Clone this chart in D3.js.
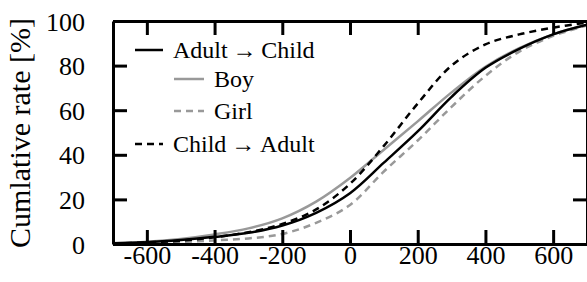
<!DOCTYPE html>
<html>
<head>
<meta charset="utf-8">
<script src="https://cdn.jsdelivr.net/npm/d3@7"></script>
<style>
  body { margin: 0; background: #fff; }
  text { font-family: "Liberation Serif", "Times New Roman", "DejaVu Serif", serif; fill: #000; }
</style>
</head>
<body>
<div class="chart"></div>
<script>
// chart values
var xValues = [-700, -600, -500, -400, -300, -200, -100, 0, 100, 200, 300, 400, 500, 600, 700];
var adultToChild = [0.3, 0.8, 1.8, 3.2, 5.0, 8.3, 14.0, 22.8, 36.5, 50.5, 66.0, 79.0, 87.5, 94.0, 98.3];
var boy = [0.3, 1.0, 2.3, 4.3, 7.0, 11.5, 19.0, 29.6, 42.3, 55.0, 68.0, 79.5, 87.8, 94.0, 98.3];
var girl = [0.1, 0.4, 0.9, 1.6, 2.5, 4.5, 9.5, 17.5, 32.5, 46.4, 61.5, 75.4, 86.3, 93.3, 98.0];
var childToAdult = [0.2, 0.7, 1.5, 3.0, 5.3, 9.0, 15.5, 27.0, 44.0, 63.0, 80.0, 89.5, 94.0, 97.0, 99.3];

var xTicks = [-600, -400, -200, 0, 200, 400, 600];
var yTicks = [0, 20, 40, 60, 80, 100];

var svgWidth = 587;
var svgHeight = 282;

var margin = { top: 21, right: 0, bottom: 38, left: 113 };
var width = svgWidth - margin.left - margin.right;
var height = svgHeight - margin.top - margin.bottom;

var svg = d3.select(".chart")
    .append("svg")
    .attr("width", svgWidth)
    .attr("height", svgHeight);

var chartGroup = svg.append("g")
    .attr("transform", `translate(${margin.left}, ${margin.top})`);

var xScale = d3.scaleLinear().domain([-700, 700]).range([0, width]);
var yScale = d3.scaleLinear().domain([0, 100]).range([height, 0]);

// clip the curves to the plot box
svg.append("defs").append("clipPath")
    .attr("id", "plotClip")
  .append("rect")
    .attr("width", width)
    .attr("height", height);

var series = [
    { name: "Girl", values: girl, color: "#999", dash: "7,5" },
    { name: "Boy", values: boy, color: "#999", dash: null },
    { name: "Child→Adult", values: childToAdult, color: "#000", dash: "7,5" },
    { name: "Adult→Child", values: adultToChild, color: "#000", dash: null }
];

var line = d3.line()
    .x(d => xScale(d[0]))
    .y(d => yScale(d[1]))
    .curve(d3.curveCatmullRom.alpha(0.5));

var curves = chartGroup.append("g").attr("clip-path", "url(#plotClip)");

series.forEach(function(s) {
    curves.append("path")
        .datum(xValues.map((x, i) => [x, s.values[i]]))
        .attr("d", line)
        .attr("fill", "none")
        .attr("stroke", s.color)
        .attr("stroke-width", 2.5)
        .attr("stroke-dasharray", s.dash);
});

// axes, ticks pointing inward
var bottomAxis = d3.axisBottom(xScale).tickValues(xTicks).tickSize(-14).tickSizeOuter(0)
    .tickPadding(20).tickFormat(d => String(d));
var leftAxis = d3.axisLeft(yScale).tickValues(yTicks).tickSize(-14).tickSizeOuter(0).tickPadding(28);
var topAxis = d3.axisTop(xScale).tickValues(xTicks).tickSize(-14).tickSizeOuter(0).tickFormat("");
var rightAxis = d3.axisRight(yScale).tickValues(yTicks).tickSize(-14).tickSizeOuter(0).tickFormat("");

var xAxis = chartGroup.append("g")
    .attr("transform", `translate(0, ${height})`)
    .call(bottomAxis);

var yAxis = chartGroup.append("g")
    .call(leftAxis);

chartGroup.append("g").call(topAxis);
chartGroup.append("g").attr("transform", `translate(${width}, 0)`).call(rightAxis);

chartGroup.selectAll(".domain, .tick line")
    .attr("stroke", "#000")
    .attr("stroke-width", 3);

xAxis.selectAll("text")
    .attr("font-size", 26)
    .attr("dy", 0);

yAxis.selectAll("text")
    .attr("font-size", 26)
    .attr("dy", "0.35em");

// y axis title
svg.append("text")
    .attr("transform", "translate(30, 133) rotate(-90)")
    .attr("text-anchor", "middle")
    .attr("font-size", 30)
    .text("Cumlative rate [%]");

// legend
var legendItems = [
    { label: "Adult\u2009→\u2009Child", color: "#000", dash: null, x1: 135, x2: 163, y: 50 },
    { label: "Boy", color: "#999", dash: null, x1: 174, x2: 204, y: 79 },
    { label: "Girl", color: "#999", dash: "7,5", x1: 174, x2: 204, y: 111 },
    { label: "Child\u2009→\u2009Adult", color: "#000", dash: "7,5", x1: 135, x2: 163, y: 144 }
];

var legend = svg.append("g");

legendItems.forEach(function(d) {
    legend.append("line")
        .attr("x1", d.x1)
        .attr("x2", d.x2)
        .attr("y1", d.y)
        .attr("y2", d.y)
        .attr("stroke", d.color)
        .attr("stroke-width", 2.5)
        .attr("stroke-dasharray", d.dash);
    legend.append("text")
        .attr("x", d.x2 + 10)
        .attr("y", d.y + 8)
        .attr("font-size", 24)
        .text(d.label);
});
</script>
</body>
</html>
